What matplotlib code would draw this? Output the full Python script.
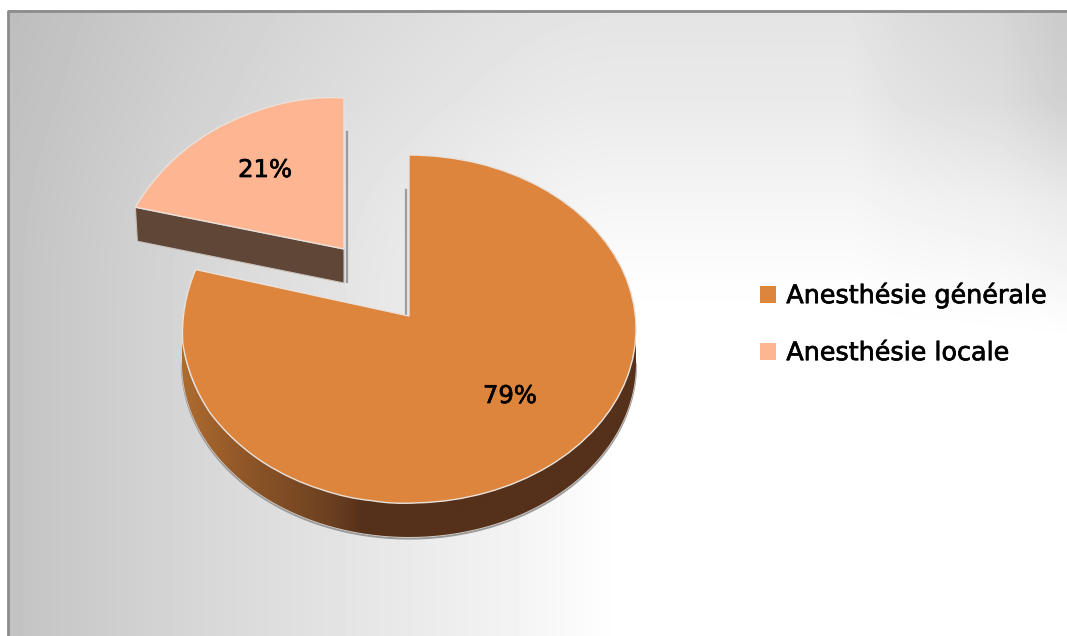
import numpy as np
import matplotlib
matplotlib.use("Agg")
import matplotlib.pyplot as plt
import matplotlib.patheffects as pe
from matplotlib.transforms import Transform
from matplotlib.path import Path
from matplotlib.patches import PathPatch
from matplotlib.colors import LinearSegmentedColormap

labels = ["Anesthésie générale", "Anesthésie locale"]
values = [79, 21]
colors = ["#DD853D", "#FDB592"]
pct_labels = ["79%", "21%"]

W, H = 1067, 636
FONT = "DejaVu Sans"
BOLDEN = [pe.withStroke(linewidth=0.5, foreground="black")]


class Warp(Transform):
    """Maps the flat unit pie onto the tilted disc, in pixel coordinates."""
    input_dims = output_dims = 2

    def __init__(self, cx, cy, rx, ry, apex):
        super().__init__()
        self.p = (cx, cy, rx, ry, apex)

    def transform_non_affine(self, v):
        cx, cy, rx, ry, apex = self.p
        v = np.asarray(v, float)
        r = np.hypot(v[:, 0], v[:, 1])
        phi = np.arctan2(-v[:, 0], v[:, 1])          # counter-clockwise from 12 o'clock
        phi = phi - np.radians(11.6) * np.sin(2 * phi) * (phi > 0)
        x = cx - rx * r * np.sin(phi)
        y = cy - ry * r * np.cos(phi) + apex * (1 - r)
        return np.column_stack([x, y])

    def transform_path_non_affine(self, path):
        return Path(self.transform_non_affine(path.vertices), path.codes)


fig = plt.figure(figsize=(W / 100, H / 100), dpi=100, facecolor="white")
ax = fig.add_axes([0, 0, 1, 1])

wedges, _ = ax.pie(values, startangle=90, counterclock=False, colors=colors,
                   wedgeprops=dict(edgecolor="#E9E2DC", linewidth=1.0))
ax.set_aspect("auto")
ax.axis("off")

# background shading
yy, xx = np.mgrid[10:H, 8:W]
left = np.interp(xx, [0, 20, 180, 300, 500, 620], [60, 59, 42, 31, 13, 0])
top = np.interp(yy, [15, 100, 200, 280, 320], [27, 21, 10, 2, 0])
right = np.interp(xx, [850, 900, 1000, 1060], [0, 7, 14, 25]) * np.interp(yy, [100, 200, 280, 340], [1, 0.45, 0.3, 0])
g = 255 - np.hypot(left, top) - right
ax.imshow(g, cmap="gray", vmin=0, vmax=255, extent=(8, W, H, 10), zorder=0,
          aspect="auto", interpolation="bilinear")
ax.plot([8, 8, W], [H, 10.5, 10.5], color="#8C8C8C", lw=2, zorder=1)

main_warp = Warp(409, 329, 227, 174, -13)
loc_warp = Warp(344, 264, 222, 166, -15)

# main wall
DEPTH = 34
t = np.radians(np.linspace(90, 270, 200))
rim = main_warp.transform_non_affine(np.column_stack([np.sin(t), np.cos(t)]))
rim = rim[np.argsort(rim[:, 0])]
wall = np.vstack([rim, (rim + [0, DEPTH])[::-1]])
ax.plot(rim[:, 0], rim[:, 1] + DEPTH + 1.5, color="#9A9A9A", lw=1.6, zorder=2)
ax.plot(rim[:, 0], rim[:, 1] + DEPTH, color="#D8D0C8", lw=1.0, zorder=2)
cmap = LinearSegmentedColormap.from_list(
    "w", [(0, "#AD6B30"), (0.14, "#8F5628"), (0.33, "#6B4020"), (0.40, "#55301A"), (1, "#55301A")])
im = ax.imshow(np.linspace(0, 1, 256)[None, :], cmap=cmap, aspect="auto",
               extent=(rim[0, 0], rim[-1, 0], 560, 300), zorder=3)
im.set_clip_path(PathPatch(Path(wall), transform=ax.transData))

# inner shadows beside the cut edges
ax.plot([405.5, 405.5], [190, 314], color="#8A8A8A", lw=1.6, zorder=2, alpha=0.8)
ax.plot([346.5, 346.5], [132, 282], color="#8A8A8A", lw=1.6, zorder=2, alpha=0.8)

wedges[0].set_transform(main_warp + ax.transData)
wedges[1].set_transform(loc_warp + ax.transData)
wedges[0].set_zorder(4)
wedges[1].set_zorder(6)

# small slice wall
phi_end = np.radians(values[1] / sum(values) * 360)
tip, left_end = loc_warp.transform_non_affine(np.array([[0, 0], [-np.sin(phi_end), np.cos(phi_end)]]))
ax.fill([left_end[0], tip[0], tip[0], left_end[0] + 2],
        [left_end[1], tip[1], tip[1] + 34, left_end[1] + 34],
        color="#604637", ec="#C8C2BC", lw=0.8, zorder=5)

for txt, pos in zip(pct_labels, [(510, 396), (265, 170)]):
    ax.text(*pos, txt, ha="center", va="center", family=FONT, fontsize=17.5,
            color="black", zorder=8, path_effects=BOLDEN)

leg = ax.legend(wedges, labels, loc="upper left", bbox_to_anchor=(752 / W, 1 - 275 / H),
                frameon=False, prop=dict(family=FONT, size=18.3), handlelength=0.63,
                handleheight=0.63, handletextpad=0.42, labelspacing=1.3,
                borderpad=0.3, borderaxespad=0)
for h in leg.get_patches():
    h.set_edgecolor("none")
for txt in leg.get_texts():
    txt.set_path_effects(BOLDEN)
leg.set_zorder(9)

ax.set_xlim(0, W)
ax.set_ylim(H, 0)

fig.savefig("out.png", dpi=100, facecolor="white")
